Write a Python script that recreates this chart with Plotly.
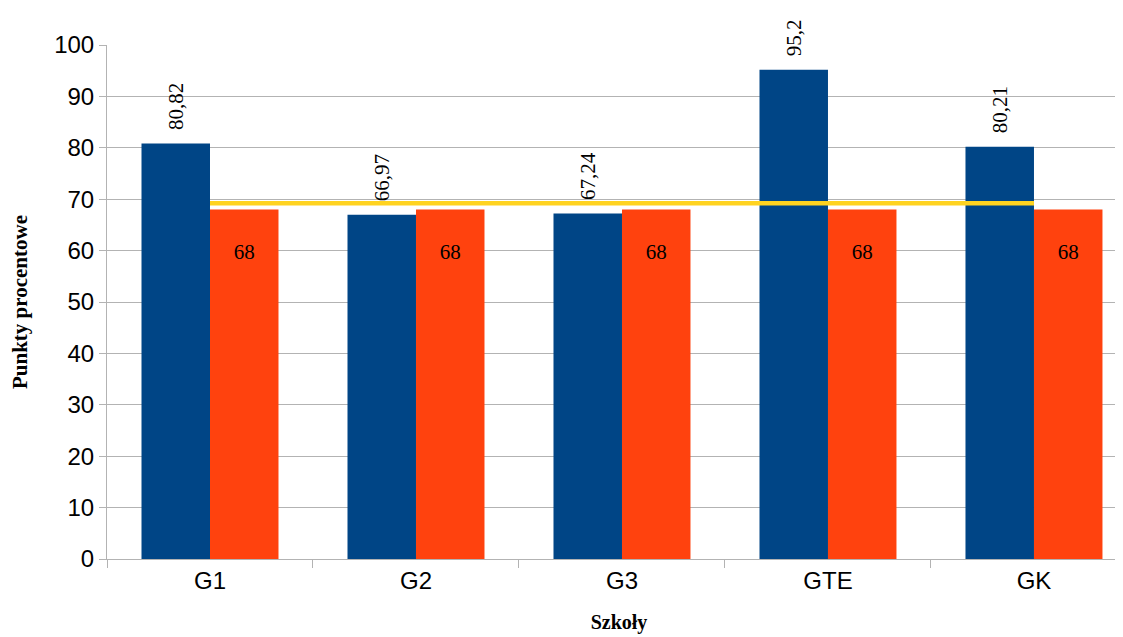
import plotly.graph_objects as go

categories = ["G1", "G2", "G3", "GTE", "GK"]
school_values = [80.82, 66.97, 67.24, 95.2, 80.21]
school_labels = ["80,82", "66,97", "67,24", "95,2", "80,21"]
reference_values = [68, 68, 68, 68, 68]
reference_labels = ["68", "68", "68", "68", "68"]
average_values = [69.2, 69.2, 69.2, 69.2, 69.2]
y_ticks = [0, 10, 20, 30, 40, 50, 60, 70, 80, 90, 100]

pad = "\u00a0\u00a0"

fig = go.Figure()
fig.add_trace(go.Bar(
    x=categories, y=school_values, text=[pad + s for s in school_labels],
    textposition="outside", textangle=-90, constraintext="none",
    textfont=dict(family="Liberation Serif", size=21, color="black"),
    marker=dict(color="#004586", line=dict(width=0)),
    cliponaxis=False, showlegend=False,
))
fig.add_trace(go.Bar(
    x=categories, y=reference_values, text=["\u00a0<br>" + s for s in reference_labels],
    textposition="inside", insidetextanchor="end", textangle=0, constraintext="none",
    textfont=dict(family="Liberation Serif", size=21, color="black"),
    marker=dict(color="#FF420E", line=dict(width=0)),
    cliponaxis=False, showlegend=False,
))
fig.add_trace(go.Scatter(
    x=categories, y=average_values, mode="lines",
    line=dict(color="#FFD320", width=4.5), showlegend=False,
))

fig.update_layout(
    width=1123, height=637,
    margin=dict(l=99, r=0, t=37, b=86, autoexpand=False),
    paper_bgcolor="white", plot_bgcolor="white",
    barmode="group", bargap=0.335, bargroupgap=0,
    font=dict(family="Liberation Sans", color="black"),
)
fig.update_xaxes(
    range=[-0.5, 4.471], showline=True, linecolor="#b3b3b3", linewidth=1,
    ticks="outside", tickson="boundaries", ticklen=8, tickcolor="#b3b3b3",
    tickfont=dict(family="Liberation Sans", size=24, color="black"),
    title=dict(text="<b>Szkoły</b>", font=dict(family="Liberation Serif", size=20, color="black"), standoff=22),
    showgrid=False, automargin=False,
)
fig.update_yaxes(
    range=[0, 100], tickvals=y_ticks, showline=True, linecolor="#b3b3b3", linewidth=1,
    ticks="outside", ticklen=7, tickcolor="#b3b3b3",
    gridcolor="#b3b3b3", gridwidth=1,
    tickfont=dict(family="Liberation Sans", size=24, color="black"),
    title=dict(text="<b>Punkty procentowe</b>", font=dict(family="Liberation Serif", size=21, color="black"), standoff=24),
    zeroline=False, automargin=False,
)

fig.write_html("out.html")
